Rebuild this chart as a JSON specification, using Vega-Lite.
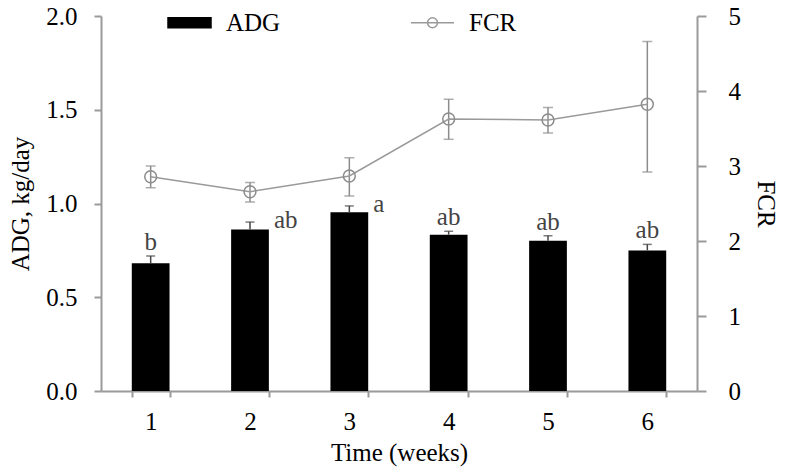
{
  "$schema": "https://vega.github.io/schema/vega-lite/v6.json",
  "width": 596,
  "height": 375,
  "autosize": {"type": "none"},
  "padding": {"left": 101, "top": 16, "right": 89, "bottom": 85},
  "background": "white",
  "config": {
    "view": {"stroke": null},
    "font": "Liberation Serif",
    "axis": {
      "labelFont": "Liberation Serif",
      "labelFontSize": 25,
      "labelColor": "black",
      "titleFont": "Liberation Serif",
      "titleFontSize": 25,
      "titleFontWeight": "normal",
      "titleColor": "black",
      "domainColor": "#9a9a9a",
      "domainWidth": 2,
      "tickColor": "#9a9a9a",
      "tickWidth": 2,
      "grid": false
    }
  },
  "data": {
    "values": [
      {"week": 1, "adg": 0.681, "adg_hi": 0.72, "fcr": 2.857, "fcr_lo": 2.71, "fcr_hi": 3.0, "letter": "b"},
      {"week": 2, "adg": 0.862, "adg_hi": 0.901, "fcr": 2.657, "fcr_lo": 2.52, "fcr_hi": 2.78, "letter": "ab"},
      {"week": 3, "adg": 0.953, "adg_hi": 0.987, "fcr": 2.867, "fcr_lo": 2.6, "fcr_hi": 3.11, "letter": "a"},
      {"week": 4, "adg": 0.834, "adg_hi": 0.852, "fcr": 3.627, "fcr_lo": 3.356, "fcr_hi": 3.89, "letter": "ab"},
      {"week": 5, "adg": 0.802, "adg_hi": 0.828, "fcr": 3.613, "fcr_lo": 3.44, "fcr_hi": 3.78, "letter": "ab"},
      {"week": 6, "adg": 0.75, "adg_hi": 0.782, "fcr": 3.823, "fcr_lo": 2.92, "fcr_hi": 4.66, "letter": "ab"}
    ]
  },
  "encoding": {
    "x": {
      "field": "week",
      "type": "ordinal",
      "scale": {"paddingInner": 0.62, "paddingOuter": 0.31},
      "axis": {
        "title": "Time (weeks)",
        "labelAngle": 0,
        "tickBand": "extent",
        "tickSize": 6,
        "labelPadding": 12,
        "titlePadding": 6
      }
    }
  },
  "layer": [
    {
      "encoding": {
        "y": {
          "type": "quantitative",
          "scale": {"domain": [0, 2], "nice": false, "zero": true},
          "axis": {
            "title": "ADG, kg/day",
            "values": [0, 0.5, 1, 1.5, 2],
            "format": ".1f",
            "tickSize": 7,
            "labelPadding": 17,
            "titlePadding": 12
          }
        }
      },
      "layer": [
        {
          "mark": {"type": "bar", "color": "black"},
          "encoding": {
            "y": {"field": "adg", "type": "quantitative"},
            "color": {
              "datum": "ADG",
              "scale": {"domain": ["ADG", "FCR"], "range": ["black", "#9a9a9a"]},
              "legend": {
                "title": null,
                "orient": "none",
                "legendX": 66,
                "legendY": -16,
                "direction": "horizontal",
                "padding": 0,
                "symbolSize": 1849,
                "symbolFillColor": "transparent",
                "labelFont": "Liberation Serif",
                "labelFontSize": 25,
                "labelColor": "black",
                "labelOffset": 14,
                "columnPadding": 127,
                "encode": {
                  "symbols": {
                    "update": {
                      "shape": [
                        {"test": "datum.value === 'ADG'", "value": "M-1,-0.23H1V0.23H-1Z"},
                        {"value": "M-1,0H1M0.23,0A0.23,0.23 0 1,1 -0.23,0A0.23,0.23 0 1,1 0.23,0"}
                      ],
                      "fill": [
                        {"test": "datum.value === 'ADG'", "value": "black"},
                        {"value": "transparent"}
                      ],
                      "fillOpacity": [
                        {"test": "datum.value === 'ADG'", "value": 1},
                        {"value": 0}
                      ],
                      "stroke": [
                        {"test": "datum.value === 'ADG'", "value": "transparent"},
                        {"value": "#9a9a9a"}
                      ],
                      "strokeWidth": {"value": 1.5},
                      "opacity": {"value": 1}
                    }
                  }
                }
              }
            }
          }
        },
        {
          "mark": {"type": "rule", "color": "#444", "strokeWidth": 1.5},
          "encoding": {
            "y": {"field": "adg", "type": "quantitative"},
            "y2": {"field": "adg_hi"}
          }
        },
        {
          "mark": {"type": "tick", "color": "#444", "size": 9, "thickness": 1.5, "orient": "horizontal"},
          "encoding": {
            "y": {"field": "adg_hi", "type": "quantitative"}
          }
        },
        {
          "transform": [{"filter": "datum.week != 2 && datum.week != 3"}],
          "mark": {"type": "text", "font": "Liberation Serif", "fontSize": 25, "color": "#444", "baseline": "middle", "dy": -14},
          "encoding": {
            "y": {"field": "adg_hi", "type": "quantitative"},
            "text": {"field": "letter"}
          }
        },
        {
          "transform": [{"filter": "datum.week == 2 || datum.week == 3"}],
          "mark": {"type": "text", "font": "Liberation Serif", "fontSize": 25, "color": "#444", "baseline": "middle", "align": "left", "dx": 24, "dy": -2},
          "encoding": {
            "y": {"field": "adg_hi", "type": "quantitative"},
            "text": {"field": "letter"}
          }
        }
      ]
    },
    {
      "encoding": {
        "y": {
          "type": "quantitative",
          "scale": {"domain": [0, 5], "nice": false},
          "axis": {
            "title": "FCR",
            "orient": "right",
            "values": [0, 1, 2, 3, 4, 5],
            "format": "d",
            "tickSize": 9,
            "labelPadding": 22,
            "titlePadding": 12
          }
        }
      },
      "layer": [
        {
          "mark": {"type": "rule", "color": "#8c8c8c", "strokeWidth": 1.5},
          "encoding": {
            "y": {"field": "fcr_lo", "type": "quantitative"},
            "y2": {"field": "fcr_hi"}
          }
        },
        {
          "mark": {"type": "tick", "color": "#8c8c8c", "size": 10, "thickness": 1.5, "orient": "horizontal"},
          "encoding": {
            "y": {"field": "fcr_hi", "type": "quantitative"}
          }
        },
        {
          "mark": {"type": "tick", "color": "#8c8c8c", "size": 10, "thickness": 1.5, "orient": "horizontal"},
          "encoding": {
            "y": {"field": "fcr_lo", "type": "quantitative"}
          }
        },
        {
          "mark": {"type": "line", "strokeWidth": 1.5},
          "encoding": {
            "y": {"field": "fcr", "type": "quantitative"},
            "color": {"datum": "FCR"}
          }
        },
        {
          "mark": {"type": "point", "shape": "circle", "size": 140, "filled": false, "stroke": "#8c8c8c", "strokeWidth": 1.5, "opacity": 1},
          "encoding": {
            "y": {"field": "fcr", "type": "quantitative"}
          }
        }
      ]
    }
  ],
  "resolve": {"scale": {"y": "independent"}}
}
